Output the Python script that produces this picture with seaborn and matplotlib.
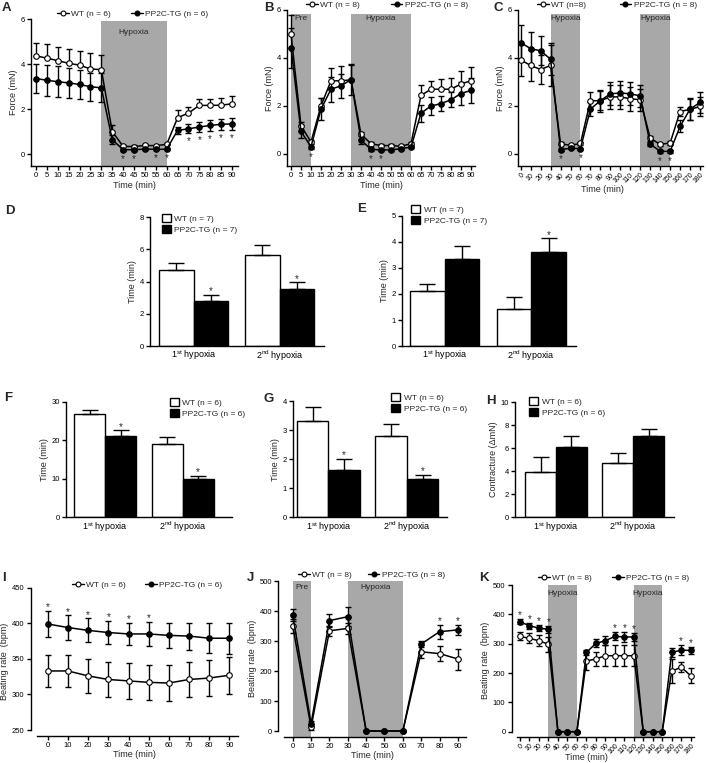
import matplotlib
matplotlib.use("Agg")
import matplotlib.pyplot as plt
import seaborn as sns
import pandas as pd
from matplotlib.lines import Line2D
from matplotlib.patches import Patch

W, H = 708, 763
FONT = "Liberation Sans"
BAND = "#a8a8a8"

# ---------------- data ----------------
time_90 = [0, 5, 10, 15, 20, 25, 30, 35, 40, 45, 50, 55, 60, 65, 70, 75, 80, 85, 90]
time_180 = [0, 10, 20, 30, 40, 50, 60, 70, 80, 90, 100, 110, 120, 130, 140, 150, 160, 170, 180]
time_10 = [0, 10, 20, 30, 40, 50, 60, 70, 80, 90]

# A: force, hypoxia 30-60 min
wt_a = [4.36, 4.26, 4.15, 4.03, 3.95, 3.78, 3.75, 1.00, 0.34, 0.33, 0.38, 0.37, 0.43, 1.61, 1.82, 2.16, 2.16, 2.17, 2.23]
wt_a_err = [0.58, 0.62, 0.62, 0.65, 0.62, 0.70, 0.65, 0.30, 0.05, 0.05, 0.05, 0.05, 0.05, 0.34, 0.25, 0.29, 0.29, 0.33, 0.33]
tg_a = [3.35, 3.28, 3.21, 3.16, 3.09, 2.99, 2.94, 0.64, 0.19, 0.19, 0.22, 0.21, 0.21, 1.05, 1.12, 1.20, 1.27, 1.32, 1.34]
tg_a_err = [0.63, 0.69, 0.68, 0.66, 0.65, 0.63, 0.65, 0.20, 0.04, 0.04, 0.04, 0.04, 0.04, 0.15, 0.20, 0.22, 0.25, 0.25, 0.27]
stars_a = [40, 45, 55, 60, 70, 75, 80, 85, 90]

# B: force, preconditioning
wt_b = [5.00, 1.18, 0.50, 2.01, 3.05, 3.05, 3.09, 0.82, 0.43, 0.35, 0.35, 0.32, 0.43, 2.44, 2.70, 2.70, 2.70, 2.92, 3.05]
wt_b_err = [0.80, 0.15, 0.10, 0.32, 0.55, 0.60, 0.62, 0.08, 0.05, 0.05, 0.05, 0.05, 0.05, 0.44, 0.33, 0.43, 0.46, 0.53, 0.57]
tg_b = [4.43, 0.94, 0.30, 1.87, 2.70, 2.84, 3.10, 0.58, 0.19, 0.17, 0.17, 0.22, 0.29, 1.70, 2.00, 2.10, 2.26, 2.52, 2.65]
tg_b_err = [0.83, 0.28, 0.10, 0.47, 0.52, 0.50, 0.65, 0.15, 0.05, 0.05, 0.05, 0.05, 0.05, 0.35, 0.37, 0.30, 0.31, 0.47, 0.53]
stars_b = [10, 40, 45]

# C: force, two hypoxia periods
wt_c = [3.92, 3.69, 3.52, 3.69, 0.43, 0.36, 0.44, 2.22, 2.22, 2.38, 2.38, 2.30, 2.26, 0.66, 0.40, 0.46, 1.77, 1.86, 1.98]
wt_c_err = [0.68, 0.64, 0.61, 0.85, 0.05, 0.05, 0.05, 0.35, 0.45, 0.50, 0.50, 0.50, 0.45, 0.10, 0.05, 0.08, 0.20, 0.45, 0.40]
tg_c = [4.64, 4.39, 4.30, 3.95, 0.18, 0.24, 0.22, 1.87, 2.22, 2.51, 2.54, 2.51, 2.42, 0.42, 0.11, 0.11, 1.15, 1.87, 2.15]
tg_c_err = [0.73, 0.68, 0.60, 0.66, 0.05, 0.05, 0.05, 0.30, 0.40, 0.48, 0.50, 0.48, 0.45, 0.10, 0.05, 0.05, 0.25, 0.45, 0.45]
stars_c = [40, 60, 140, 150]

# D-H: bar charts
hypoxia = ["1$^{\\mathrm{st}}$ hypoxia", "2$^{\\mathrm{nd}}$ hypoxia"]
wt_d, wt_d_err, tg_d, tg_d_err = [4.72, 5.63], [0.45, 0.62], [2.79, 3.54], [0.37, 0.41]
wt_e, wt_e_err, tg_e, tg_e_err = [2.10, 1.44], [0.30, 0.46], [3.36, 3.61], [0.49, 0.53]
wt_f, wt_f_err, tg_f, tg_f_err = [26.7, 19.1], [1.0, 1.8], [21.1, 10.0], [1.4, 0.8]
wt_g, wt_g_err, tg_g, tg_g_err = [3.32, 2.78], [0.49, 0.42], [1.63, 1.31], [0.37, 0.14]
wt_h, wt_h_err, tg_h, tg_h_err = [3.94, 4.71], [1.31, 0.91], [6.06, 7.05], [1.00, 0.60]
stars_d, stars_e, stars_f, stars_g, stars_h = [1, 1], [0, 1], [1, 1], [1, 1], [0, 0]

# I: beating rate, normoxia
wt_i = [333, 333, 326, 321, 319, 317, 316, 321, 323, 327]
wt_i_err = [22, 22, 24, 25, 25, 25, 25, 25, 25, 26]
tg_i = [399, 394, 390, 387, 385, 385, 383, 382, 379, 379]
tg_i_err = [18, 17, 17, 16, 16, 17, 18, 19, 21, 22]
stars_i = [0, 10, 20, 30, 40, 50]

# J: beating rate, preconditioning
wt_j = [350, 12, 334, 342, 0, 0, 0, 264, 258, 240]
wt_j_err = [22, 8, 17, 17, 0, 0, 0, 22, 25, 35]
tg_j = [387, 25, 368, 381, 0, 0, 0, 290, 331, 337]
tg_j_err = [20, 10, 22, 31, 0, 0, 0, 11, 24, 17]
stars_j = [80, 90]

# K: beating rate, two hypoxia periods
wt_k = [325, 318, 310, 298, 0, 0, 0, 241, 248, 259, 259, 259, 259, 0, 0, 0, 206, 220, 191]
wt_k_err = [14, 17, 19, 25, 0, 0, 0, 30, 24, 35, 35, 35, 35, 0, 0, 0, 41, 16, 26]
tg_k = [375, 361, 353, 349, 0, 0, 0, 270, 301, 310, 325, 323, 323, 0, 0, 0, 270, 278, 277]
tg_k_err = [9, 11, 11, 11, 0, 0, 0, 8, 14, 16, 14, 16, 15, 0, 0, 0, 16, 18, 11]
stars_k = [0, 10, 20, 30, 100, 110, 120, 170, 180]

bands_pre = [(0, 10, "Pre"), (30, 60, "Hypoxia")]
bands_one = [(30, 60, "Hypoxia")]
bands_two = [(30, 60, "Hypoxia"), (120, 150, "Hypoxia")]

# ---------------- style ----------------
sns.set_style("ticks")
plt.rcParams["font.family"] = [FONT, "DejaVu Sans"]
plt.rcParams["mathtext.fontset"] = "custom"
plt.rcParams["mathtext.rm"] = FONT
plt.rcParams["axes.linewidth"] = 1.0
plt.rcParams["axes.edgecolor"] = "black"

TICK = 5.5
LABEL = 6.5
LEG = 6

fig = plt.figure(figsize=(W / 100, H / 100), dpi=100)


def new_ax(box):
    left, top, right, bottom = box
    return fig.add_axes([left / W, 1 - bottom / H, (right - left) / W, (bottom - top) / H])


def style(ax, xlim, ylim):
    ax.set_xlim(*xlim)
    ax.set_ylim(*ylim)
    sns.despine(ax=ax)
    ax.tick_params(length=3, width=1, labelsize=TICK, pad=1.5, colors="black")


def draw_series(ax, time, mean, err, mode, face):
    zeros = [0] * len(err)
    lower = err if mode in ("both", "down") else zeros
    upper = err if mode in ("both", "up") else zeros
    ax.errorbar(time, mean, yerr=[lower, upper], fmt="none", ecolor="black",
                elinewidth=1, capsize=2, capthick=1, zorder=2)
    sns.lineplot(x=time, y=mean, ax=ax, color="black", linewidth=1.1, marker="o",
                 markersize=4, markerfacecolor=face, markeredgecolor="black",
                 markeredgewidth=0.8, zorder=3)


def line_panel(box, xlim, ylim, time, wt, wt_err, tg, tg_err, wt_mode, bands,
               band_top, band_text_y, stars, star_side, xticks, yticks, rotate,
               legend_at, colspace, labels, ylabel, xspine=None, yspine=None,
               xlabel_at=None):
    ax = new_ax(box)
    for x0, x1, name in bands:
        ax.fill_between([x0, x1], ylim[0], band_top, color=BAND, lw=0, zorder=0)
        ax.text((x0 + x1) / 2, band_text_y, name, ha="center", va="center", fontsize=LEG)
    draw_series(ax, time, wt, wt_err, wt_mode, "white")
    draw_series(ax, time, tg, tg_err, "both", "black")
    for t in stars:
        i = time.index(t)
        if star_side == "below":
            ax.annotate("*", (t, tg[i] - tg_err[i]), xytext=(0, -8), textcoords="offset points",
                        ha="center", va="baseline", fontsize=7)
        else:
            ax.annotate("*", (t, tg[i] + tg_err[i]), xytext=(0, 0.5), textcoords="offset points",
                        ha="center", va="baseline", fontsize=7)
    style(ax, xlim, ylim)
    ax.set_xticks(xticks)
    ax.set_yticks(yticks)
    if rotate:
        ax.tick_params(axis="x", labelsize=5, pad=1)
        for lab in ax.get_xticklabels():
            lab.set_rotation(45)
            lab.set_ha("right")
            lab.set_rotation_mode("anchor")
    if xspine:
        ax.spines["bottom"].set_bounds(*xspine)
    if yspine:
        ax.spines["left"].set_bounds(*yspine)
    ax.set_xlabel("Time (min)", fontsize=LABEL, labelpad=1)
    if xlabel_at:
        ax.xaxis.label.set_va("center")
        ax.xaxis.set_label_coords(xlabel_at[0] / W, 1 - xlabel_at[1] / H,
                                  transform=fig.transFigure)
    ax.set_ylabel(ylabel, fontsize=LABEL, labelpad=2)
    handles = [Line2D([], [], color="black", lw=1, marker="o", markersize=3.5,
                      markerfacecolor=f, markeredgecolor="black", markeredgewidth=0.8)
               for f in ("white", "black")]
    ax.legend(handles, labels, ncol=2, loc="center left",
              bbox_to_anchor=(legend_at[0] / W, 1 - legend_at[1] / H),
              bbox_transform=fig.transFigure, frameon=False, fontsize=LEG,
              handlelength=1.4, handletextpad=0.3, columnspacing=colspace,
              borderpad=0, borderaxespad=0)
    return ax


def bar_panel(box, xlim, ylim, wt, wt_err, tg, tg_err, tg_star, yticks, ylabel,
              labels, legend_at):
    ax = new_ax(box)
    df = pd.DataFrame({
        "hypoxia": hypoxia + hypoxia,
        "group": ["WT"] * 2 + ["PP2C-TG"] * 2,
        "value": wt + tg,
    })
    sns.barplot(data=df, x="hypoxia", y="value", hue="group",
                palette={"WT": "white", "PP2C-TG": "black"}, saturation=1,
                edgecolor="black", linewidth=1, errorbar=None, legend=False, ax=ax)
    for cont, err in zip(ax.containers, (wt_err, tg_err)):
        xs = [b.get_x() + b.get_width() / 2 for b in cont]
        hs = [b.get_height() for b in cont]
        ax.errorbar(xs, hs, yerr=[[0] * len(err), err], fmt="none", ecolor="black",
                    elinewidth=1, capsize=6, capthick=1, zorder=3)
    for b, err, flag in zip(ax.containers[1], tg_err, tg_star):
        if flag:
            ax.annotate("*", (b.get_x() + b.get_width() / 2, b.get_height() + err),
                        xytext=(0, 0.5), textcoords="offset points",
                        ha="center", va="baseline", fontsize=7)
    style(ax, xlim, ylim)
    ax.set_yticks(yticks)
    ax.tick_params(axis="x", length=0, labelsize=LABEL, pad=2)
    ax.set_xlabel("")
    ax.set_ylabel(ylabel, fontsize=LABEL, labelpad=2)
    handles = [Patch(facecolor="white", edgecolor="black", lw=1),
               Patch(facecolor="black", edgecolor="black", lw=1)]
    ax.legend(handles, labels, loc="upper left",
              bbox_to_anchor=(legend_at[0] / W, 1 - legend_at[1] / H),
              bbox_transform=fig.transFigure, frameon=False, fontsize=LEG,
              handlelength=1.1, handleheight=1.1, handletextpad=0.4,
              labelspacing=0.25, borderpad=0, borderaxespad=0)
    return ax


# ---------------- top row ----------------
line_panel((31, 19, 238, 166), (-2.3, 92.75), (-0.533, 6), time_90, wt_a, wt_a_err,
           tg_a, tg_a_err, "up", bands_one, 5.92, 5.42, stars_a, "below",
           time_90, [0, 2, 4, 6], False, (57, 14), 2.4,
           ["WT (n = 6)", "PP2C-TG (n = 6)"], "Force (mN)")
line_panel((287, 10, 475, 166), (-2, 92), (-0.5, 6), time_90, wt_b, wt_b_err,
           tg_b, tg_b_err, "up", bands_pre, 5.85, 5.65, stars_b, "below",
           time_90, [0, 2, 4, 6], False, (306, 5), 3.7,
           ["WT (n = 8)", "PP2C-TG (n = 8)"], "Force (mN)")
line_panel((518, 10, 703, 166), (-2.7, 183), (-0.5, 6), time_180, wt_c, wt_c_err,
           tg_c, tg_c_err, "both", bands_two, 5.85, 5.65, stars_c, "below",
           time_180, [0, 2, 4, 6], True, (537, 5), 4.0,
           ["WT (n=8)", "PP2C-TG (n = 8)"], "Force (mN)", xlabel_at=(602, 190))

# ---------------- bar rows ----------------
bar_panel((150, 217, 324, 346), (-0.506, 1.517), (0, 8), wt_d, wt_d_err, tg_d, tg_d_err,
          stars_d, [0, 2, 4, 6, 8], "Time (min)", ["WT (n = 7)", "PP2C-TG (n = 7)"], (162, 214))
bar_panel((402, 216, 576, 346), (-0.493, 1.516), (0, 5), wt_e, wt_e_err, tg_e, tg_e_err,
          stars_e, [0, 1, 2, 3, 4, 5], "Time (min)", ["WT (n = 7)", "PP2C-TG (n = 7)"], (411, 205))
bar_panel((66, 401.5, 232, 517.3), (-0.507, 1.637), (0, 30), wt_f, wt_f_err, tg_f, tg_f_err,
          stars_f, [0, 10, 20, 30], "Time (min)", ["WT (n = 6)", "PP2C-TG (n = 6)"], (170, 398))
bar_panel((293, 401, 447, 517.3), (-0.452, 1.512), (0, 4), wt_g, wt_g_err, tg_g, tg_g_err,
          stars_g, [0, 1, 2, 3, 4], "Time (min)", ["WT (n = 6)", "PP2C-TG (n = 6)"], (391, 393))
bar_panel((515, 402, 674, 517.3), (-0.53, 1.527), (0, 10), wt_h, wt_h_err, tg_h, tg_h_err,
          stars_h, [0, 2, 4, 6, 8, 10], "Contracture (\u0394mN)", ["WT (n = 6)", "PP2C-TG (n = 6)"],
          (529, 397))

# ---------------- bottom row ----------------
line_panel((30.7, 587.7, 238, 735.7), (-8.5, 94.3), (242, 450), time_10, wt_i, wt_i_err,
           tg_i, tg_i_err, "both", [], 0, 0, stars_i, "above",
           time_10, [250, 300, 350, 400, 450], False, (72, 585), 2.3,
           ["WT (n = 6)", "PP2C-TG (n = 6)"], "Beating rate  (bpm)",
           xspine=(-5.5, 94.3), yspine=(250, 450))
line_panel((278.3, 581, 466, 736.7), (-7.85, 94.4), (-19, 500), time_10, wt_j, wt_j_err,
           tg_j, tg_j_err, "both", bands_pre, 500, 478, stars_j, "above",
           time_10, [0, 100, 200, 300, 400, 500], False, (298, 575), 1.9,
           ["WT (n = 8)", "PP2C-TG (n = 8)"], "Beating rate  (bpm)",
           xspine=(-5, 94.4), yspine=(0, 500))
line_panel((511.7, 585, 694, 736.7), (-8.75, 183.5), (-17, 500), time_180, wt_k, wt_k_err,
           tg_k, tg_k_err, "both", bands_two, 500, 470, stars_k, "above",
           time_180, [0, 100, 200, 300, 400, 500], True, (538, 578), 2.4,
           ["WT (n = 8)", "PP2C-TG (n = 8)"], "Beating rate  (bpm)",
           xspine=(-3.5, 183.5), yspine=(0, 500), xlabel_at=(586, 757))

# ---------------- panel letters ----------------
for letter, x, y in [("A", 2, 2), ("B", 264, 2), ("C", 494, 2), ("D", 5, 205),
                     ("E", 357, 203), ("F", 4, 392), ("G", 263, 393), ("H", 486, 395),
                     ("I", 2, 572), ("J", 247, 572), ("K", 479, 572)]:
    fig.text(x / W, 1 - y / H, letter, fontsize=9.5, fontweight="bold",
             ha="left", va="top")

fig.savefig("out.png", dpi=100)
